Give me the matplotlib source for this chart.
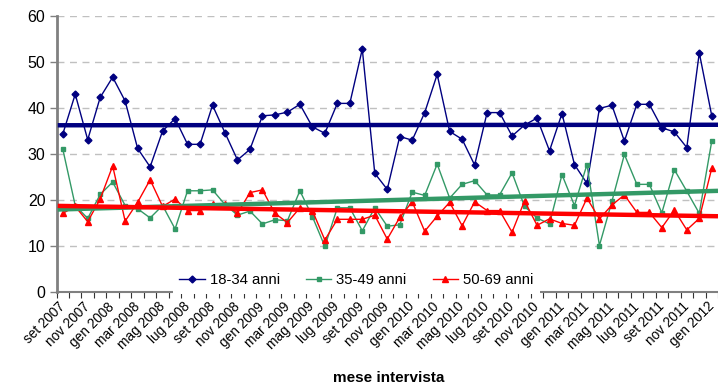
import numpy as np
import matplotlib.pyplot as plt

plt.rcParams['font.family'] = ['Liberation Sans', 'DejaVu Sans']

# mesi da set 2007 a gen 2012
mesi_it = ["gen", "feb", "mar", "apr", "mag", "giu", "lug", "ago", "set", "ott", "nov", "dic"]
months = [f"{mesi_it[(8 + i) % 12]} {2007 + (8 + i) // 12}" for i in range(53)]

age_18_34 = [34.3, 43.0, 33.1, 42.3, 46.7, 41.5, 31.2, 27.2, 35.0, 37.7,
             32.1, 32.1, 40.6, 34.6, 28.7, 31.0, 38.3, 38.5, 39.1, 40.8,
             35.9, 34.5, 41.0, 41.0, 52.8, 25.8, 22.3, 33.8, 33.0, 39.0,
             47.3, 34.9, 33.2, 27.6, 39.0, 39.0, 33.9, 36.3, 37.8, 30.7,
             38.8, 27.7, 23.6, 39.9, 40.6, 32.8, 40.8, 40.8, 35.7, 34.8,
             31.4, 52.0, 38.3]

age_35_49 = [31.1, 18.8, 16.0, 21.2, 23.9, 18.8, 18.1, 16.1, 18.8, 13.7,
             22.0, 22.0, 22.2, 19.0, 16.7, 17.6, 14.8, 15.7, 15.5, 22.0,
             16.4, 9.9, 18.3, 18.3, 13.3, 18.3, 14.3, 14.6, 21.7, 21.0,
             27.8, 20.4, 23.4, 24.2, 21.1, 21.1, 25.9, 18.6, 16.1, 14.8,
             25.5, 18.8, 27.7, 10.1, 19.7, 29.9, 23.4, 23.4, 17.2, 26.6,
             21.9, 17.1, 32.8]

age_50_69 = [17.1, 18.6, 15.3, 20.2, 27.4, 15.4, 19.5, 24.4, 18.6, 20.2,
             17.7, 17.7, 19.1, 19.1, 17.1, 21.6, 22.2, 17.1, 15.1, 18.3,
             17.7, 11.3, 15.8, 15.8, 15.8, 16.7, 11.5, 16.2, 19.6, 13.2,
             16.5, 19.5, 14.4, 19.6, 17.7, 17.7, 13.0, 19.8, 14.5, 15.9,
             14.9, 14.5, 20.4, 15.9, 18.9, 21.1, 17.3, 17.3, 14.0, 17.8,
             13.5, 16.0, 26.9]

series = [
    ("18-34 anni", age_18_34, "#000080", "D", 3.5),
    ("35-49 anni", age_35_49, "#339966", "s", 3.5),
    ("50-69 anni", age_50_69, "#ff0000", "^", 4.5),
]

x = np.arange(len(months))

fig = plt.figure(figsize=(7.18, 3.87), dpi=100)
ax = fig.add_axes([0.0787, 0.2455, 1 - 0.0787, 0.9587 - 0.2455])

for label, vals, col, mk, ms in series:
    ax.plot(x, vals, color=col, lw=1, marker=mk, markersize=ms,
            label=label, zorder=3, clip_on=False)

# linee di tendenza lineari
for label, vals, col, mk, ms in series:
    k, q = np.polyfit(x, vals, 1)
    x0, x1 = x[0] - 0.4, x[-1] + 0.5
    ax.plot([x0, x1], [q + k * x0, q + k * x1],
            color=col, lw=3.2, zorder=4, solid_capstyle='butt')

ax.set_ylim(0, 60)
ax.set_xlim(-0.41, 52.05)
ax.set_yticks(range(0, 61, 10))
ax.yaxis.grid(True, color='#c0c0c0', linestyle=(0, (5, 4)), lw=1)
ax.set_axisbelow(True)

# tacche ai confini dei mesi, etichette ogni due mesi
ax.set_xticks(np.arange(-0.5, 53, 1))
ax.set_xticklabels([])
ax.set_xticks(x[::2], minor=True)
ax.set_xticklabels(months[::2], minor=True, rotation=45, ha='right', va='center',
                   rotation_mode='anchor', fontsize=9.8)
ax.tick_params(axis='x', which='major', length=4, width=0.8, color='#333333')
ax.tick_params(axis='x', which='minor', length=0, pad=9)
ax.tick_params(axis='y', length=5, width=1, color='#808080', labelsize=11.5, pad=3)

for s in ['top', 'right']:
    ax.spines[s].set_visible(False)
ax.spines['left'].set_color('#808080')
ax.spines['left'].set_linewidth(2)
ax.spines['bottom'].set_color('#808080')
ax.spines['bottom'].set_linewidth(1.5)

leg = ax.legend(loc='lower center', bbox_to_anchor=(0.4535, -0.006), ncol=3,
                frameon=True, facecolor='white', edgecolor='none', framealpha=1,
                fontsize=10.7, handlelength=1.7, handletextpad=0.35,
                columnspacing=1.75, borderaxespad=0, fancybox=False, borderpad=0.45)
leg.set_zorder(5)

fig.text(0.541, 0.023, "mese intervista", ha='center', va='center',
         fontsize=11, fontweight='bold')

fig.savefig("out.png", dpi=100)
